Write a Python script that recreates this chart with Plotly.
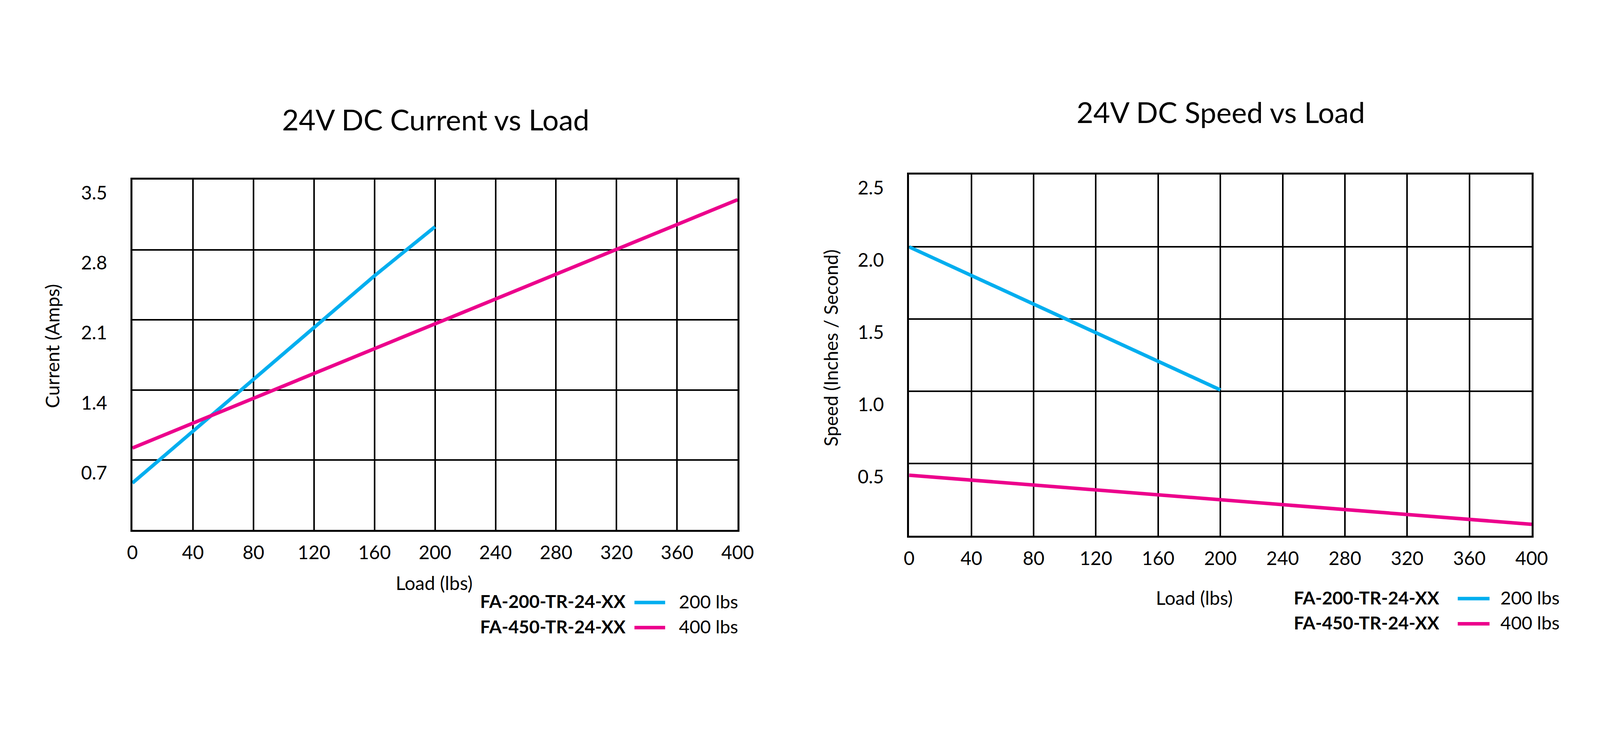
import plotly.graph_objects as go

W, H = 4252, 1890  # reference canvas used to place elements in paper fractions

# ---------------- data ----------------
load_200_current = [0, 40, 80, 120, 160, 200]
current_200 = [0.47, 0.99, 1.50, 2.02, 2.54, 3.03]
load_450_current = [0, 200, 400]
current_450 = [0.82, 2.06, 3.30]

load_200_speed = [0, 200]
speed_200 = [2.00, 1.01]
load_450_speed = [0, 400]
speed_450 = [0.42, 0.08]

x_ticks = [0, 40, 80, 120, 160, 200, 240, 280, 320, 360, 400]
current_ticks = [0.7, 1.4, 2.1, 2.8, 3.5]
current_tick_text = ["0.7", "1.4", "2.1", "2.8", "3.5"]
speed_ticks = [0.5, 1.0, 1.5, 2.0, 2.5]
speed_tick_text = ["0.5", "1.0", "1.5", "2.0", "2.5"]

models = ["FA-200-TR-24-XX", "FA-450-TR-24-XX"]
capacities = ["200 lbs", "400 lbs"]
titles = ["24V DC Current vs Load", "24V DC Speed vs Load"]
y_titles = ["Current (Amps)", "Speed (Inches / Second)"]
x_title = "Load (lbs)"

BLUE = "#00AEEF"
PINK = "#EC008C"
FONT = "Lato"


def px(x):
    return x / W


def py(y):
    return 1 - y / H


fig = go.Figure()
fig.add_trace(go.Scatter(x=load_200_current, y=current_200, mode="lines",
                         line=dict(color=BLUE, width=9), xaxis="x", yaxis="y",
                         name=capacities[0], showlegend=False))
fig.add_trace(go.Scatter(x=load_450_current, y=current_450, mode="lines",
                         line=dict(color=PINK, width=9), xaxis="x", yaxis="y",
                         name=capacities[1], showlegend=False))
fig.add_trace(go.Scatter(x=load_200_speed, y=speed_200, mode="lines",
                         line=dict(color=BLUE, width=9), xaxis="x2", yaxis="y2",
                         name=capacities[0], showlegend=False))
fig.add_trace(go.Scatter(x=load_450_speed, y=speed_450, mode="lines",
                         line=dict(color=PINK, width=9), xaxis="x2", yaxis="y2",
                         name=capacities[1], showlegend=False))

xcommon = dict(range=[0, 400], tickvals=x_ticks, ticktext=[str(v) for v in x_ticks],
               showgrid=True, gridcolor="black", gridwidth=4, zeroline=False,
               showline=True, linecolor="black", linewidth=5, mirror=True,
               ticks="", ticklabelstandoff=12,
               tickfont=dict(family=FONT, size=48, color="black"), fixedrange=True)
ycommon = dict(showgrid=True, gridcolor="black", gridwidth=4, zeroline=False,
               showline=True, linecolor="black", linewidth=5, mirror=True,
               ticks="", ticklabelposition="outside bottom", ticklabelstandoff=50,
               tickfont=dict(family=FONT, size=48, color="black"), fixedrange=True)

L = dict(x0=335, x1=1972, y0=456, y1=1361)
R = dict(x0=2436, x1=4120, y0=443, y1=1376)

fig.update_layout(
    autosize=True, margin=dict(l=0, r=0, t=0, b=0),
    paper_bgcolor="white", plot_bgcolor="white", showlegend=False,
    xaxis=dict(domain=[px(L["x0"]), px(L["x1"])], anchor="y", **xcommon),
    yaxis=dict(domain=[py(L["y1"]), py(L["y0"])], anchor="x", range=[0, 3.5],
               tickvals=current_ticks, ticktext=current_tick_text, **ycommon),
    xaxis2=dict(domain=[px(R["x0"]), px(R["x1"])], anchor="y2", **xcommon),
    yaxis2=dict(domain=[py(R["y1"]), py(R["y0"])], anchor="x2", range=[0, 2.5],
                tickvals=speed_ticks, ticktext=speed_tick_text, **ycommon),
)

ann = []
# titles
ann.append(dict(text=titles[0], x=px(1155), y=py(300), xref="paper", yref="paper",
                showarrow=False, xanchor="center", yanchor="middle",
                font=dict(family=FONT, size=74, color="black")))
ann.append(dict(text=titles[1], x=px(3279), y=py(281), xref="paper", yref="paper",
                showarrow=False, xanchor="center", yanchor="middle",
                font=dict(family=FONT, size=74, color="black")))
# y titles
ann.append(dict(text=y_titles[0], x=px(118), y=py(886), xref="paper", yref="paper",
                showarrow=False, xanchor="center", yanchor="middle", textangle=-90,
                font=dict(family=FONT, size=48, color="black")))
ann.append(dict(text=y_titles[1], x=px(2224), y=py(891), xref="paper", yref="paper",
                showarrow=False, xanchor="center", yanchor="middle", textangle=-90,
                font=dict(family=FONT, size=48, color="black")))
# x titles
ann.append(dict(text=x_title, x=px(1151), y=py(1497), xref="paper", yref="paper",
                showarrow=False, xanchor="center", yanchor="middle",
                font=dict(family=FONT, size=48, color="black")))
ann.append(dict(text=x_title, x=px(3207), y=py(1535), xref="paper", yref="paper",
                showarrow=False, xanchor="center", yanchor="middle",
                font=dict(family=FONT, size=48, color="black")))

# custom legends
legend_specs = [
    dict(name_right=1671, sw0=1693, sw1=1776, cap_left=1811, rows=[1545, 1610]),
    dict(name_right=3872, sw0=3920, sw1=4006, cap_left=4033, rows=[1535, 1600]),
]
colors = [BLUE, PINK]
shapes = []
for spec in legend_specs:
    for i, yrow in enumerate(spec["rows"]):
        ann.append(dict(text="<b>%s</b>" % models[i], x=px(spec["name_right"]), y=py(yrow),
                        xref="paper", yref="paper", showarrow=False,
                        xanchor="right", yanchor="middle",
                        font=dict(family=FONT, size=46, color="black")))
        ann.append(dict(text=capacities[i], x=px(spec["cap_left"]), y=py(yrow),
                        xref="paper", yref="paper", showarrow=False,
                        xanchor="left", yanchor="middle",
                        font=dict(family=FONT, size=47, color="black")))
        shapes.append(dict(type="line", xref="paper", yref="paper",
                           x0=px(spec["sw0"]), x1=px(spec["sw1"]),
                           y0=py(yrow + 3), y1=py(yrow + 3),
                           line=dict(color=colors[i], width=9)))

fig.update_layout(annotations=ann, shapes=shapes)
fig.write_html("out.html")
